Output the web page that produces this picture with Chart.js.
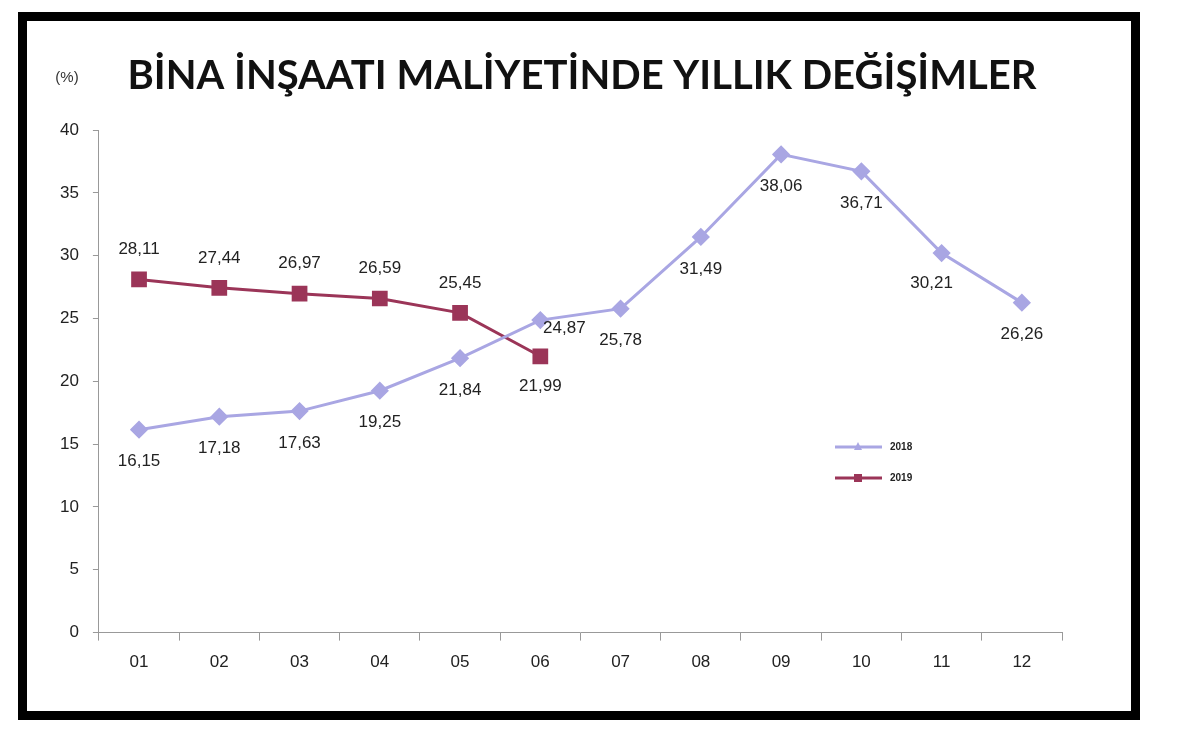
<!DOCTYPE html>
<html><head><meta charset="utf-8">
<script src="https://cdn.jsdelivr.net/npm/chart.js@4/dist/chart.umd.min.js"></script>
<style>html,body{margin:0;padding:0;background:#fff}#c{display:block}</style>
</head><body>
<div style="width:1200px;height:752px"><canvas id="c" width="1200" height="752"></canvas></div>
<script>
const months = ['01','02','03','04','05','06','07','08','09','10','11','12'];
const values2018 = [16.15,17.18,17.63,19.25,21.84,24.87,25.78,31.49,38.06,36.71,30.21,26.26];
const values2019 = [28.11,27.44,26.97,26.59,25.45,21.99];
const yTicks = [0,5,10,15,20,25,30,35,40];
const fmt = v => v.toFixed(2).replace('.', ',');

const deco = {
  id:'deco',
  beforeDraw(ch){
    const c = ch.ctx;
    c.save();
    c.fillStyle='#fff'; c.fillRect(0,0,1200,752);
    c.strokeStyle='#000'; c.lineWidth=9;
    c.strokeRect(22.5,16.5,1113,699);
    c.restore();
  },
  afterDatasetsDraw(ch){
    const c = ch.ctx;
    c.save();
    c.fillStyle='#111'; c.font='bold 40px Lato, "Open Sans", sans-serif';
    c.textAlign='center'; c.textBaseline='middle';
    c.fillText('BİNA İNŞAATI MALİYETİNDE YILLIK DEĞİŞİMLER', 582, 76);
    c.font='15px "Liberation Sans", Arial, sans-serif'; c.fillStyle='#333';
    c.fillText('(%)', 67, 78);
    c.font='17px "Liberation Sans", Arial, sans-serif'; c.fillStyle='#222';
    ch.data.datasets.forEach((ds,di)=>{
      const meta = ch.getDatasetMeta(di);
      meta.data.forEach((p,i)=>{
        let x=p.x, y=p.y;
        if(di===0){
          if(i===5){x+=24;y+=8;} else if(i===10){x-=10;y+=30;} else y+=32;
        } else {
          if(i===5) y+=30; else y-=30;
        }
        c.fillText(fmt(ds.data[i]), x, y);
      });
    });
    const items=[['2018','#a9a6e3','triangle',6,447],['2019','#9b3558','rect',8,478]];
    c.font='bold 10px "Liberation Sans", Arial, sans-serif';
    items.forEach(([t,col,sh,r,y])=>{
      c.strokeStyle=col; c.lineWidth=3;
      c.beginPath(); c.moveTo(835,y); c.lineTo(882,y); c.stroke();
      c.fillStyle=col;
      if(sh==='rect') c.fillRect(858-4,y-4,8,8);
      else {c.beginPath();c.moveTo(858,y-5);c.lineTo(862,y+3);c.lineTo(854,y+3);c.closePath();c.fill();}
      c.fillStyle='#222'; c.textAlign='left'; c.fillText(t, 890, y);
    });
    c.restore();
  }
};

new Chart(document.getElementById('c'),{
  type:'line',
  data:{labels:months,datasets:[
    {label:'2018',data:values2018,borderColor:'#a9a6e3',backgroundColor:'#a9a6e3',borderWidth:3,
     pointStyle:'rectRot',pointRadius:7,pointHoverRadius:7,tension:0},
    {label:'2019',data:values2019,borderColor:'#9b3558',backgroundColor:'#9b3558',borderWidth:3,
     pointStyle:'rect',pointRadius:9,pointHoverRadius:9,tension:0}
  ]},
  options:{
    responsive:false,animation:false,devicePixelRatio:1,
    layout:{padding:{left:46,right:138,top:130,bottom:67}},
    plugins:{legend:{display:false},tooltip:{enabled:false}},
    scales:{
      x:{offset:true,grid:{display:true,drawOnChartArea:false,offset:true,tickLength:8,color:'#999'},
         border:{color:'#999'},
         ticks:{color:'#222',font:{size:17,family:'"Liberation Sans", Arial, sans-serif'},padding:12}},
      y:{min:0,max:40,afterBuildTicks(a){a.ticks=yTicks.map(v=>({value:v}));},
         grid:{display:true,drawOnChartArea:false,tickLength:6,color:'#999'},
         border:{color:'#999'},
         ticks:{color:'#222',font:{size:17,family:'"Liberation Sans", Arial, sans-serif'},padding:14}}
    }
  },
  plugins:[deco]
});
</script>
</body></html>
